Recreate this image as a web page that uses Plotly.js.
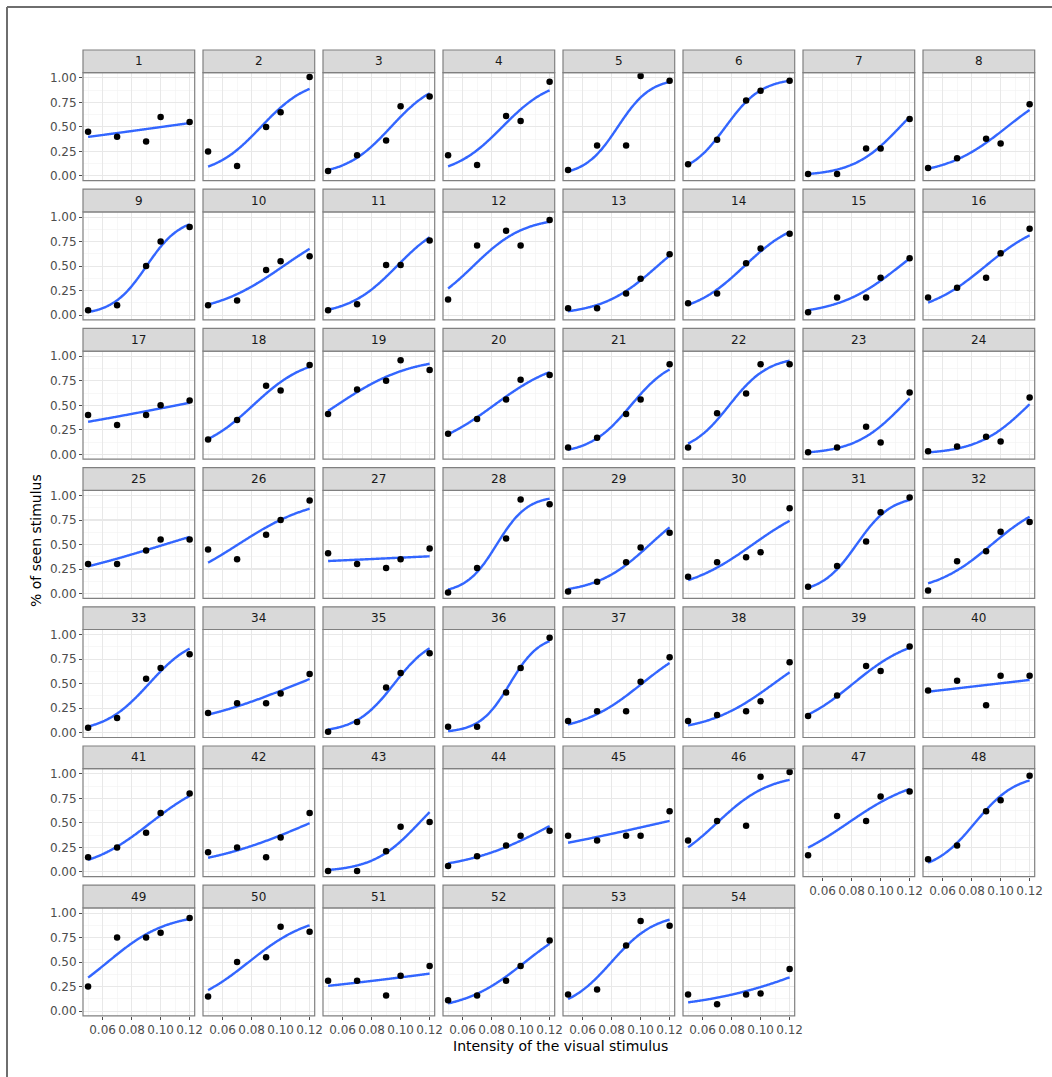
<!DOCTYPE html>
<html>
<head>
<meta charset="utf-8">
<script src="https://cdn.plot.ly/plotly-3.0.1.min.js"></script>
<style>html,body{margin:0;padding:0;background:#fff;}</style>
</head>
<body>
<div id="chart" style="width:1052px;height:1077px;"></div>
<script>
// Stimulus intensities shown to every subject
const intensity = [0.05, 0.07, 0.09, 0.10, 0.12];

// Proportion of stimuli seen, one list per subject, grouped by facet row
const seenRow1 = [
  [0.45, 0.40, 0.35, 0.60, 0.55],
  [0.25, 0.10, 0.50, 0.65, 1.01],
  [0.05, 0.21, 0.36, 0.71, 0.81],
  [0.21, 0.11, 0.61, 0.56, 0.96],
  [0.06, 0.31, 0.31, 1.02, 0.97],
  [0.12, 0.37, 0.77, 0.87, 0.97],
  [0.02, 0.02, 0.28, 0.28, 0.58],
  [0.08, 0.18, 0.38, 0.33, 0.73]
];
const seenRow2 = [
  [0.05, 0.10, 0.50, 0.75, 0.90],
  [0.10, 0.15, 0.46, 0.55, 0.60],
  [0.05, 0.11, 0.51, 0.51, 0.76],
  [0.16, 0.71, 0.86, 0.71, 0.97],
  [0.07, 0.07, 0.22, 0.37, 0.62],
  [0.12, 0.22, 0.53, 0.68, 0.83],
  [0.03, 0.18, 0.18, 0.38, 0.58],
  [0.18, 0.28, 0.38, 0.63, 0.88]
];
const seenRow3 = [
  [0.40, 0.30, 0.40, 0.50, 0.55],
  [0.15, 0.35, 0.70, 0.65, 0.91],
  [0.41, 0.66, 0.75, 0.96, 0.86],
  [0.21, 0.36, 0.56, 0.76, 0.81],
  [0.07, 0.17, 0.41, 0.56, 0.92],
  [0.07, 0.42, 0.62, 0.92, 0.92],
  [0.02, 0.07, 0.28, 0.12, 0.63],
  [0.03, 0.08, 0.18, 0.13, 0.58]
];
const seenRow4 = [
  [0.30, 0.30, 0.44, 0.55, 0.55],
  [0.45, 0.35, 0.60, 0.75, 0.95],
  [0.41, 0.30, 0.26, 0.35, 0.46],
  [0.01, 0.26, 0.56, 0.96, 0.91],
  [0.02, 0.12, 0.32, 0.47, 0.62],
  [0.17, 0.32, 0.37, 0.42, 0.87],
  [0.07, 0.28, 0.53, 0.83, 0.98],
  [0.03, 0.33, 0.43, 0.63, 0.73]
];
const seenRow5 = [
  [0.05, 0.15, 0.55, 0.66, 0.80],
  [0.20, 0.30, 0.30, 0.40, 0.60],
  [0.01, 0.11, 0.46, 0.61, 0.81],
  [0.06, 0.06, 0.41, 0.66, 0.97],
  [0.12, 0.22, 0.22, 0.52, 0.77],
  [0.12, 0.18, 0.22, 0.32, 0.72],
  [0.17, 0.38, 0.68, 0.63, 0.88],
  [0.43, 0.53, 0.28, 0.58, 0.58]
];
const seenRow6 = [
  [0.15, 0.25, 0.40, 0.60, 0.80],
  [0.20, 0.25, 0.15, 0.35, 0.60],
  [0.01, 0.01, 0.21, 0.46, 0.51],
  [0.06, 0.16, 0.27, 0.37, 0.42],
  [0.37, 0.32, 0.37, 0.37, 0.62],
  [0.32, 0.52, 0.47, 0.97, 1.02],
  [0.17, 0.57, 0.52, 0.77, 0.82],
  [0.13, 0.27, 0.62, 0.73, 0.98]
];
const seenRow7 = [
  [0.25, 0.75, 0.75, 0.80, 0.95],
  [0.15, 0.50, 0.55, 0.86, 0.81],
  [0.31, 0.31, 0.16, 0.36, 0.46],
  [0.11, 0.16, 0.31, 0.46, 0.72],
  [0.17, 0.22, 0.67, 0.92, 0.87],
  [0.17, 0.07, 0.17, 0.18, 0.43]
];

const seen = [].concat(seenRow1, seenRow2, seenRow3, seenRow4, seenRow5, seenRow6, seenRow7);
const subjects = seen.map((_, i) => String(i + 1));

// Axis breaks and labels
const xTickVals = [0.06, 0.08, 0.10, 0.12];
const xTickText = ['0.06', '0.08', '0.10', '0.12'];
const xMinorVals = [0.05, 0.07, 0.09, 0.11];
const yTickVals = [0, 0.25, 0.5, 0.75, 1];
const yTickText = ['0.00', '0.25', '0.50', '0.75', '1.00'];
const yMinorVals = [0.125, 0.375, 0.625, 0.875];

// Binomial GLM (logit link) fitted by iteratively reweighted least squares
function fitLogit(x, y) {
  const n = x.length;
  const xm = x.reduce((a, b) => a + b, 0) / n;
  const yc = y.map(v => Math.min(1, Math.max(0, v)));
  let b0 = 0, b1 = 0;
  for (let it = 0; it < 60; it++) {
    let sw = 0, swx = 0, swxx = 0, swz = 0, swxz = 0;
    for (let i = 0; i < n; i++) {
      const xc = x[i] - xm;
      const eta = b0 + b1 * xc;
      const mu = 1 / (1 + Math.exp(-eta));
      const w = Math.max(mu * (1 - mu), 1e-9);
      const z = eta + (yc[i] - mu) / w;
      sw += w; swx += w * xc; swxx += w * xc * xc; swz += w * z; swxz += w * xc * z;
    }
    const det = sw * swxx - swx * swx;
    const nb1 = (sw * swxz - swx * swz) / det;
    const nb0 = (swz - nb1 * swx) / sw;
    const done = Math.abs(nb0 - b0) < 1e-10 && Math.abs(nb1 - b1) < 1e-10;
    b0 = nb0; b1 = nb1;
    if (done) break;
  }
  return xv => 1 / (1 + Math.exp(-(b0 + b1 * (xv - xm))));
}

// Facet geometry in pixels
const W = 1052, H = 1077;
const NCOL = 8;
const colLeft0 = 83, colPitch = 120, panelW = 111.7;
const rowTop0 = 50, rowPitch = 139.2, stripH = 22.7, panelH = 108;

const font = 'DejaVu Sans, Arial, sans-serif';
const traces = [];
const shapes = [];
const annotations = [];
const layout = {
  width: W, height: H,
  margin: {l: 0, r: 0, t: 0, b: 0},
  paper_bgcolor: '#ffffff',
  plot_bgcolor: '#ffffff',
  showlegend: false,
  font: {family: font}
};

seen.forEach((vals, k) => {
  const r = Math.floor(k / NCOL), c = k % NCOL;
  const left = colLeft0 + colPitch * c, right = left + panelW;
  const stripTop = rowTop0 + rowPitch * r;
  const panelTop = stripTop + stripH, panelBot = panelTop + panelH;
  const xa = k === 0 ? 'x' : 'x' + (k + 1);
  const ya = k === 0 ? 'y' : 'y' + (k + 1);
  const xKey = k === 0 ? 'xaxis' : 'xaxis' + (k + 1);
  const yKey = k === 0 ? 'yaxis' : 'yaxis' + (k + 1);

  // bottom panel of each column carries the x tick labels
  const showX = (k + NCOL) >= seen.length;
  const showY = c === 0;

  layout[xKey] = {
    domain: [left / W, right / W],
    anchor: ya,
    range: [0.0465, 0.1235],
    tickmode: 'array', tickvals: xTickVals, ticktext: xTickText,
    tickangle: 0,
    showticklabels: showX,
    ticks: showX ? 'outside' : '', ticklen: 3, tickwidth: 1, tickcolor: '#4d4d4d',
    tickfont: {family: font, size: 12, color: '#4d4d4d'},
    showgrid: true, gridcolor: '#e8e8e8', gridwidth: 1.1,
    minor: {tickmode: 'array', tickvals: xMinorVals, showgrid: true, gridcolor: '#f2f2f2', gridwidth: 0.6, ticks: ''},
    zeroline: false, showline: false, fixedrange: true
  };
  layout[yKey] = {
    domain: [(H - panelBot) / H, (H - panelTop) / H],
    anchor: xa,
    range: [-0.049, 1.053],
    tickmode: 'array', tickvals: yTickVals, ticktext: yTickText,
    showticklabels: showY,
    ticks: showY ? 'outside' : '', ticklen: 3, tickwidth: 1, tickcolor: '#4d4d4d',
    tickfont: {family: font, size: 12, color: '#4d4d4d'},
    showgrid: true, gridcolor: '#e8e8e8', gridwidth: 1.1,
    minor: {tickmode: 'array', tickvals: yMinorVals, showgrid: true, gridcolor: '#f2f2f2', gridwidth: 0.6, ticks: ''},
    zeroline: false, showline: false, fixedrange: true
  };

  // fitted psychometric curve over the tested intensity range
  const model = fitLogit(intensity, vals);
  const xLo = Math.min(...intensity), xHi = Math.max(...intensity);
  const xs = [], ys = [];
  for (let i = 0; i <= 80; i++) {
    const xv = xLo + (xHi - xLo) * i / 80;
    xs.push(xv); ys.push(model(xv));
  }
  traces.push({
    x: xs, y: ys, xaxis: xa, yaxis: ya, type: 'scatter', mode: 'lines',
    line: {color: '#3366FF', width: 2.4, shape: 'spline'}, hoverinfo: 'skip'
  });
  traces.push({
    x: intensity, y: vals, xaxis: xa, yaxis: ya, type: 'scatter', mode: 'markers',
    marker: {color: '#000000', size: 6.5}, cliponaxis: false,
    name: subjects[k]
  });

  // panel border
  shapes.push({
    type: 'rect', xref: 'paper', yref: 'paper', layer: 'above',
    x0: left / W, x1: right / W, y0: (H - panelBot) / H, y1: (H - panelTop) / H,
    line: {color: '#808080', width: 1.2}, fillcolor: 'rgba(0,0,0,0)'
  });
  // facet strip
  shapes.push({
    type: 'rect', xref: 'paper', yref: 'paper', layer: 'above',
    x0: left / W, x1: right / W, y0: (H - panelTop) / H, y1: (H - stripTop) / H,
    line: {color: '#808080', width: 1.2}, fillcolor: '#d9d9d9'
  });
  annotations.push({
    xref: 'paper', yref: 'paper',
    x: (left + right) / 2 / W, y: (H - (stripTop + stripH / 2)) / H,
    xanchor: 'center', yanchor: 'middle', showarrow: false,
    text: subjects[k], font: {family: font, size: 12, color: '#1a1a1a'}
  });
});

// outer frame (left and top edges)
shapes.push({type: 'line', xref: 'paper', yref: 'paper', x0: 7 / W, x1: 1, y0: (H - 7) / H, y1: (H - 7) / H,
  line: {color: '#6e6e6e', width: 2}});
shapes.push({type: 'line', xref: 'paper', yref: 'paper', x0: 7 / W, x1: 7 / W, y0: 0, y1: (H - 7) / H,
  line: {color: '#6e6e6e', width: 2}});

// axis titles
annotations.push({
  xref: 'paper', yref: 'paper', x: 560 / W, y: (H - 1046) / H,
  xanchor: 'center', yanchor: 'middle', showarrow: false,
  text: 'Intensity of the visual stimulus', font: {family: font, size: 14, color: '#000000'}
});
annotations.push({
  xref: 'paper', yref: 'paper', x: 36 / W, y: (H - 541) / H,
  xanchor: 'center', yanchor: 'middle', showarrow: false, textangle: -90,
  text: '% of seen stimulus', font: {family: font, size: 14, color: '#000000'}
});

layout.shapes = shapes;
layout.annotations = annotations;

Plotly.newPlot('chart', traces, layout, {displayModeBar: false, staticPlot: true});
</script>
</body>
</html>
